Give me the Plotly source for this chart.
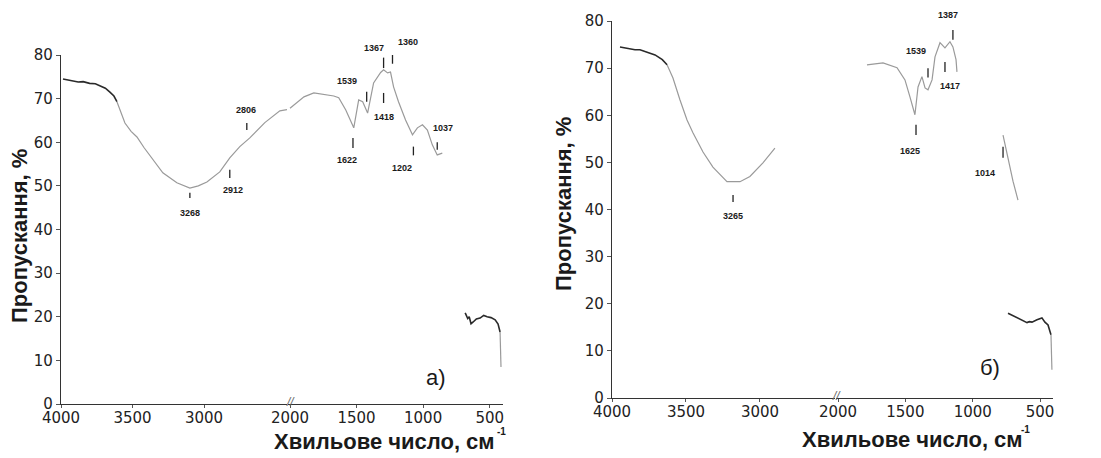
import plotly.graph_objects as go

W, H = 1101, 458

# ---------------- DATA: panel а) ----------------
a_hi_dark_wn = [3986, 3950, 3915, 3880, 3845, 3800, 3760, 3728, 3690, 3658, 3630, 3609]
a_hi_dark_t = [74.5, 74.3, 74.1, 73.8, 73.9, 73.5, 73.4, 73.0, 72.4, 71.5, 70.6, 69.3]
a_hi_faint_wn = [3609, 3580, 3553, 3510, 3469, 3420, 3358, 3288, 3190, 3099, 3040, 2980, 2890,
                 2820, 2750, 2680, 2575, 2470, 2420]
a_hi_faint_t = [69.3, 66.5, 64.4, 62.5, 61.2, 58.8, 56.0, 53.0, 50.7, 49.5, 50.0, 50.9, 53.2,
                56.4, 59.0, 61.0, 64.5, 67.2, 67.5]
a_lo_faint_wn = [2000, 1895, 1821, 1746, 1671, 1634, 1581, 1521, 1484, 1454, 1417, 1372, 1319,
                 1297, 1267, 1245, 1222, 1185, 1132, 1080, 1043, 1005, 968, 931, 894, 856]
a_lo_faint_t = [67.8, 70.4, 71.3, 71.0, 70.6, 70.2, 67.4, 63.3, 69.7, 69.3, 66.7, 73.6, 76.0,
                76.6, 75.9, 76.1, 72.7, 69.3, 65.1, 61.7, 63.3, 64.0, 62.8, 59.4, 57.1, 57.5]
a_end_dark_wn = [684, 665, 654, 640, 624, 600, 572, 545, 519, 490, 459, 437, 422]
a_end_dark_t = [20.9, 19.6, 20.0, 18.4, 18.8, 19.5, 19.7, 20.3, 20.0, 19.8, 19.3, 18.3, 16.5]
a_end_faint_wn = [422, 415]
a_end_faint_t = [16.5, 8.5]

a_peak_labels = ["3268", "2912", "2806", "1622", "1539", "1418", "1367", "1360", "1202", "1037"]
a_peak_hi = [True, True, True, False, False, False, False, False, False, False]
a_peak_x = [3099, 2820, 2701, 1527, 1424, 1297, 1297, 1230, 1073, 894]
a_peak_tick_lo = [47.2, 51.8, 62.8, 58.7, 69.3, 69.0, 77.0, 78.0, 57.0, 58.3]
a_peak_tick_hi = [48.4, 53.7, 64.4, 61.0, 71.6, 71.3, 79.4, 80.0, 59.0, 60.0]
a_text_x = [3099, 2799, 2708, 1572, 1572, 1294, 1369, 1113, 1158, 850]
a_text_y = [43.8, 49.1, 67.4, 56.0, 74.1, 65.8, 81.6, 83.0, 54.0, 63.3]

# ---------------- DATA: panel б) ----------------
b_hi_dark_wn = [3946, 3910, 3880, 3845, 3811, 3760, 3709, 3660, 3628]
b_hi_dark_t = [74.5, 74.3, 74.2, 73.9, 73.9, 73.4, 72.8, 71.8, 70.7]
b_hi_faint_wn = [3628, 3588, 3541, 3493, 3453, 3385, 3318, 3223, 3135, 3068, 2980, 2899]
b_hi_faint_t = [70.7, 67.9, 63.3, 59.0, 56.3, 52.2, 49.0, 45.9, 45.9, 47.0, 49.9, 53.0]
b_lo_faint_wn = [1785, 1666, 1562, 1503, 1466, 1429, 1406, 1377, 1354, 1332, 1302, 1280, 1243,
                 1206, 1169, 1147, 1124, 1117]
b_lo_faint_t = [70.7, 71.1, 70.1, 67.5, 63.9, 60.1, 66.0, 68.2, 65.8, 65.4, 67.5, 72.4, 75.4,
                74.3, 75.6, 74.5, 71.8, 69.2]
b_mid_faint_wn = [775, 740, 701, 664]
b_mid_faint_t = [55.8, 51.0, 46.0, 42.0]
b_end_dark_wn = [738, 700, 671, 640, 597, 580, 560, 523, 486, 464, 441, 419]
b_end_dark_t = [18.0, 17.5, 17.0, 16.6, 16.0, 16.2, 16.1, 16.6, 17.0, 16.1, 15.5, 13.4]
b_end_faint_wn = [419, 412]
b_end_faint_t = [13.4, 6.0]

b_peak_labels = ["3265", "1625", "1539", "1417", "1387", "1014"]
b_peak_hi = [True, False, False, False, False, False]
b_peak_x = [3182, 1421, 1332, 1206, 1147, 775]
b_peak_tick_lo = [41.6, 55.8, 68.0, 69.2, 76.0, 51.0]
b_peak_tick_hi = [43.1, 58.0, 70.0, 71.3, 78.1, 53.3]
b_text_x = [3182, 1466, 1421, 1169, 1184, 909]
b_text_y = [38.6, 52.4, 73.7, 66.2, 81.3, 47.8]

y_range = [0, 80]
y_ticks = [0, 10, 20, 30, 40, 50, 60, 70, 80]
x_ticks_hi = [4000, 3500, 3000]
x_ticks_lo = [2000, 1500, 1000, 500]
y_title = "Пропускання, %"
x_title = "Хвильове число, см"
x_title_sup = "-1"

# ---------------- FIGURE ----------------
DARK = "#2a2a2a"
FAINT = "#9a9a9a"
FONT = "Arial, Liberation Sans, sans-serif"
TICKFONT = "DejaVu Sans, Arial, sans-serif"

fig = go.Figure()


def px(v):
    return v / W


def py(v):
    return (H - v) / H


def note(**kw):
    kw.setdefault("xanchor", "center")
    kw.setdefault("yanchor", "middle")
    kw.setdefault("showarrow", False)
    fig.add_annotation(**kw)


def add_line(xs, ys, xa, ya, color, width):
    fig.add_trace(go.Scatter(x=xs, y=ys, xaxis=xa, yaxis=ya, mode="lines",
                             line=dict(color=color, width=width), hoverinfo="skip",
                             showlegend=False))


def add_peaks(labels, hi, xs, lo_y, hi_y, tx, ty, xa_hi, xa_lo, ya):
    for seg_flag, xa in ((True, xa_hi), (False, xa_lo)):
        lx, ly = [], []
        for i in range(len(labels)):
            if hi[i] == seg_flag:
                lx += [xs[i], xs[i], None]
                ly += [lo_y[i], hi_y[i], None]
        if lx:
            add_line(lx, ly, xa, ya, "#222222", 1.3)
    for i, lab in enumerate(labels):
        xa = xa_hi if hi[i] else xa_lo
        # y in data units expressed as fraction of the y domain, so labels just
        # above the 80 % top are still drawn
        note(x=tx[i], y=(ty[i] - y_range[0]) / (y_range[1] - y_range[0]),
             xref=xa, yref=ya + " domain", text="<b>%s</b>" % lab,
             font=dict(size=9, color="#1a1a1a", family=FONT))


# panel а)
add_line(a_hi_faint_wn, a_hi_faint_t, "x", "y", FAINT, 1.2)
add_line(a_hi_dark_wn, a_hi_dark_t, "x", "y", DARK, 1.6)
add_line(a_lo_faint_wn, a_lo_faint_t, "x2", "y", FAINT, 1.2)
add_line(a_end_faint_wn, a_end_faint_t, "x2", "y", FAINT, 1.2)
add_line(a_end_dark_wn, a_end_dark_t, "x2", "y", DARK, 1.6)
add_peaks(a_peak_labels, a_peak_hi, a_peak_x, a_peak_tick_lo, a_peak_tick_hi,
          a_text_x, a_text_y, "x", "x2", "y")

# panel б)
add_line(b_hi_faint_wn, b_hi_faint_t, "x3", "y2", FAINT, 1.2)
add_line(b_hi_dark_wn, b_hi_dark_t, "x3", "y2", DARK, 1.6)
add_line(b_lo_faint_wn, b_lo_faint_t, "x4", "y2", FAINT, 1.2)
add_line(b_mid_faint_wn, b_mid_faint_t, "x4", "y2", FAINT, 1.2)
add_line(b_end_faint_wn, b_end_faint_t, "x4", "y2", FAINT, 1.2)
add_line(b_end_dark_wn, b_end_dark_t, "x4", "y2", DARK, 1.6)
add_peaks(b_peak_labels, b_peak_hi, b_peak_x, b_peak_tick_lo, b_peak_tick_hi,
          b_text_x, b_text_y, "x3", "x4", "y2")

tickfont = dict(family=TICKFONT, size=15, color="#222222")
axis_common = dict(showgrid=False, zeroline=False, showline=True, linecolor="#333333",
                   linewidth=1.2, ticks="outside", ticklen=3, tickcolor="#555555",
                   tickfont=tickfont, automargin=False)
xaxis_common = dict(axis_common, ticklabelstandoff=-3)
yaxis_common = dict(axis_common, ticklen=4)

fig.update_layout(
    width=W, height=H, margin=dict(l=0, r=0, t=0, b=0, autoexpand=False),
    paper_bgcolor="white", plot_bgcolor="white", showlegend=False,
    xaxis=dict(domain=[px(61), px(287)], range=[4000, 2420], anchor="y",
               tickvals=x_ticks_hi, **xaxis_common),
    xaxis2=dict(domain=[px(288), px(503)], range=[2015, 400], anchor="y",
                tickvals=x_ticks_lo, **xaxis_common),
    xaxis3=dict(domain=[px(612), px(835)], range=[4000, 2493], anchor="y2",
                tickvals=x_ticks_hi, **xaxis_common),
    xaxis4=dict(domain=[px(836), px(1053)], range=[2015, 404], anchor="y2",
                tickvals=x_ticks_lo, **xaxis_common),
    yaxis=dict(domain=[py(404), py(55)], range=y_range, anchor="x",
               tickvals=y_ticks, **yaxis_common),
    yaxis2=dict(domain=[py(398), py(21)], range=y_range, anchor="x3",
                tickvals=y_ticks, **yaxis_common),
)

# axis titles
title_font = dict(family=FONT, size=22, color="#1a1a1a")
sup_font = dict(family=FONT, size=10, color="#1a1a1a")
note(x=px(19), y=py(236), xref="paper", yref="paper", text="<b>%s</b>" % y_title,
     textangle=-90, font=title_font)
note(x=px(563), y=py(204), xref="paper", yref="paper", text="<b>%s</b>" % y_title,
     textangle=-90, font=title_font)
note(x=px(384), y=py(441), xref="paper", yref="paper", text="<b>%s</b>" % x_title,
     font=title_font)
note(x=px(501), y=py(431), xref="paper", yref="paper", text="<b>%s</b>" % x_title_sup,
     font=sup_font)
note(x=px(912), y=py(439), xref="paper", yref="paper", text="<b>%s</b>" % x_title,
     font=title_font)
note(x=px(1025), y=py(429), xref="paper", yref="paper", text="<b>%s</b>" % x_title_sup,
     font=sup_font)

# panel letters
note(x=900, y=6.0, xref="x2", yref="y", text="а)",
     font=dict(family=FONT, size=22, color="#1a1a1a"))
note(x=872, y=6.4, xref="x4", yref="y2", text="б)",
     font=dict(family=FONT, size=22, color="#1a1a1a"))

# axis break marks
note(x=px(290), y=py(402), xref="paper", yref="paper", text="<i>//</i>",
     font=dict(family=FONT, size=12, color="#666666"))
note(x=px(836), y=py(396), xref="paper", yref="paper", text="<i>//</i>",
     font=dict(family=FONT, size=12, color="#666666"))

fig.write_html("out.html")
